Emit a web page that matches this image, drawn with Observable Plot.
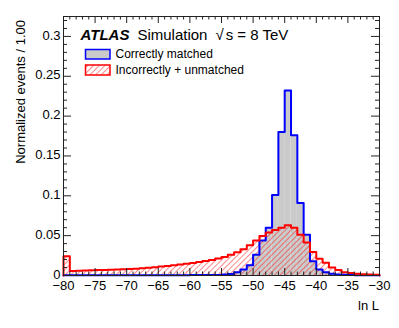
<!DOCTYPE html>
<html><head><meta charset="utf-8">
<script src="https://cdn.jsdelivr.net/npm/d3@7"></script>
<script src="https://cdn.jsdelivr.net/npm/@observablehq/plot@0.6"></script>
<style>
body{margin:0;background:#fff}
svg{font-family:"Liberation Sans",Arial,Helvetica,sans-serif}
</style>
</head><body><div id="chart"></div>
<script>
// bin lower edges (ln L), width 1
const binLow = [-80,-79,-78,-77,-76,-75,-74,-73,-72,-71,-70,-69,-68,-67,-66,-65,-64,-63,-62,-61,
  -60,-59,-58,-57,-56,-55,-54,-53,-52,-51,-50,-49,-48,-47,-46,-45,-44,-43,-42,-41,
  -40,-39,-38,-37,-36,-35,-34,-33,-32,-31];
const binWidth = 1;
// Correctly matched
const matched = [0.0003,0.0003,0.0003,0.0003,0.0003,0.0003,0.0003,0.0003,0.0003,0.0003,
  0.0003,0.0003,0.0003,0.0003,0.0003,0.0003,0.0003,0.0004,0.0004,0.0004,
  0.0005,0.0005,0.0005,0.0006,0.0007,0.0012,0.0020,0.0040,0.0075,0.0130,
  0.0260,0.0440,0.0600,0.1010,0.1800,0.2320,0.1760,0.0910,0.0510,0.0180,
  0.0075,0.0040,0.0022,0.0012,0.0008,0.0005,0.0004,0.0003,0.0002,0.0002];
// Incorrectly + unmatched
const wrong = [0.0240,0.0055,0.0060,0.0063,0.0065,0.0068,0.0070,0.0072,0.0075,0.0078,
  0.0082,0.0086,0.0091,0.0097,0.0104,0.0112,0.0120,0.0129,0.0138,0.0148,
  0.0158,0.0170,0.0182,0.0196,0.0212,0.0232,0.0260,0.0292,0.0330,0.0380,
  0.0440,0.0495,0.0540,0.0570,0.0600,0.0630,0.0600,0.0510,0.0415,0.0295,
  0.0210,0.0160,0.0100,0.0068,0.0042,0.0030,0.0021,0.0015,0.0011,0.0009];
const xMajor = [-80,-75,-70,-65,-60,-55,-50,-45,-40,-35,-30];
const xMinor = [-79,-78,-77,-76,-74,-73,-72,-71,-69,-68,-67,-66,-64,-63,-62,-61,-59,-58,-57,-56,
  -54,-53,-52,-51,-49,-48,-47,-46,-44,-43,-42,-41,-39,-38,-37,-36,-34,-33,-32,-31];
const yMajor = [0,0.05,0.1,0.15,0.2,0.25,0.3];
const yMajorLabels = ["0","0.05","0.1","0.15","0.2","0.25","0.3"];
const yMinor = [0.01,0.02,0.03,0.04,0.06,0.07,0.08,0.09,0.11,0.12,0.13,0.14,0.16,0.17,0.18,0.19,
  0.21,0.22,0.23,0.24,0.26,0.27,0.28,0.29,0.31,0.32];
const seriesLabels = ["Correctly matched","Incorrectly + unmatched"];
const xTitle = "ln L";
const yTitle = "Normalized events / 1.00";

const data = binLow.map((x1,i)=>({x1, x2:x1+binWidth, matched:matched[i], wrong:wrong[i]}));
function outline(key){
  const pts=[{x:data[0].x1,y:0}];
  for(const d of data){pts.push({x:d.x1,y:d[key]},{x:d.x2,y:d[key]});}
  pts.push({x:data[data.length-1].x2,y:0});
  return pts;
}
const W=399,H=328,mL=63,mR=20,mT=16,mB=53;
const fw=W-mL-mR, fh=H-mT-mB;
const fmtX = d => d<0 ? "\u2212"+Math.abs(d) : String(d);

const chart = Plot.plot({
  width:W, height:H, marginLeft:mL, marginRight:mR, marginTop:mT, marginBottom:mB,
  x:{domain:[-80,-30], axis:null},
  y:{domain:[0,0.325], axis:null},
  style:{fontFamily:"Liberation Sans, Arial, sans-serif", background:"white", color:"black"},
  marks:[
    Plot.rect(data,{x1:"x1",x2:"x2",y1:0,y2:"matched",fill:"#cacaca"}),
    Plot.rect(data,{x1:"x1",x2:"x2",y1:0,y2:"wrong",fill:"url(#hatchRed)"}),
    Plot.line(outline("matched"),{x:"x",y:"y",stroke:"#0000ff",strokeWidth:2}),
    Plot.line(outline("wrong"),{x:"x",y:"y",stroke:"#ff0000",strokeWidth:2}),
    Plot.frame({stroke:"#222"}),
    Plot.tickX(xMajor,{x:d=>d,insetTop:fh-7,stroke:"#222"}),
    Plot.tickX(xMinor,{x:d=>d,insetTop:fh-3.5,stroke:"#222"}),
    Plot.tickX(xMajor,{x:d=>d,insetBottom:fh-7,stroke:"#222"}),
    Plot.tickX(xMinor,{x:d=>d,insetBottom:fh-3.5,stroke:"#222"}),
    Plot.tickY(yMajor,{y:d=>d,insetRight:fw-8,stroke:"#222"}),
    Plot.tickY(yMinor,{y:d=>d,insetRight:fw-4,stroke:"#222"}),
    Plot.tickY(yMajor,{y:d=>d,insetLeft:fw-8,stroke:"#222"}),
    Plot.tickY(yMinor,{y:d=>d,insetLeft:fw-4,stroke:"#222"}),
    Plot.text(xMajor,{x:d=>d,frameAnchor:"bottom",lineAnchor:"top",dy:5,text:fmtX,fontSize:13,fill:"black"}),
    Plot.text(yMajor,{y:d=>d,frameAnchor:"left",textAnchor:"end",dx:-3,dy:-1,text:(d,i)=>yMajorLabels[i],fontSize:13,fill:"black"})
  ]
});
document.getElementById("chart").appendChild(chart);

const svg = d3.select(chart);
const defs = svg.insert("defs",":first-child");
const pat = defs.append("pattern").attr("id","hatchRed").attr("patternUnits","userSpaceOnUse")
  .attr("width",4).attr("height",4).attr("patternTransform","rotate(45)");
pat.append("line").attr("x1",0).attr("y1",0).attr("x2",0).attr("y2",4)
  .attr("stroke","#ff0000").attr("stroke-width",1.1).attr("stroke-opacity",0.85);

const g = svg.append("g").attr("text-anchor","start").attr("fill","black");
// titles
g.append("text").attr("x",379).attr("y",310).attr("text-anchor","end")
  .attr("font-size",13).text(xTitle);
g.append("text").attr("transform","translate(25,20) rotate(-90)").attr("text-anchor","end")
  .attr("font-size",13).text(yTitle);

// ATLAS label
const lab = g.append("text").attr("x",80.5).attr("y",39.5).attr("font-size",15).attr("text-anchor","start");
lab.append("tspan").attr("font-weight","bold").attr("font-style","italic").text("ATLAS");
lab.append("tspan").attr("dx",8).text("Simulation");
lab.append("tspan").attr("dx",8).text("\u221A");
lab.append("tspan").attr("dx",2).text("s = 8 TeV");

// legend
g.append("rect").attr("x",85.5).attr("y",49.5).attr("width",24.5).attr("height",9.5)
  .attr("fill","#cacaca").attr("stroke","#0000ff").attr("stroke-width",1.5);
g.append("rect").attr("x",85.5).attr("y",65).attr("width",24.5).attr("height",10)
  .attr("fill","url(#hatchRed)").attr("stroke","#ff0000").attr("stroke-width",1.5);
g.append("text").attr("x",115.5).attr("y",57.5).attr("font-size",12).attr("text-anchor","start").text(seriesLabels[0]);
g.append("text").attr("x",115.5).attr("y",74).attr("font-size",12).attr("text-anchor","start").text(seriesLabels[1]);
</script>
</body></html>
